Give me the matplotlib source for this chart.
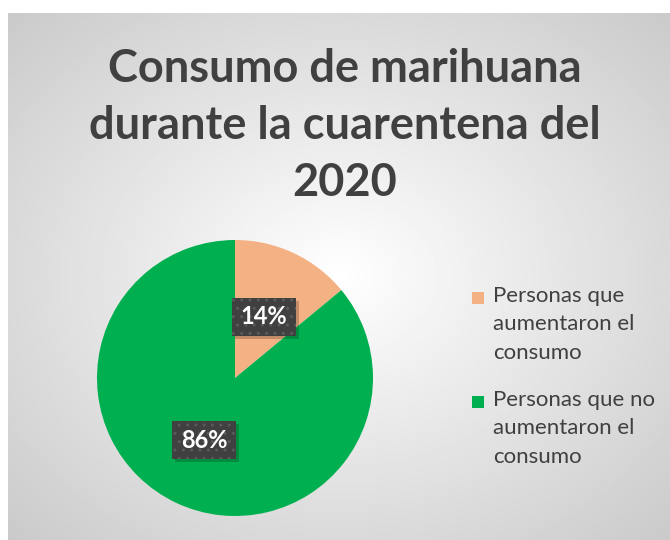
import numpy as np
import matplotlib.pyplot as plt
from matplotlib.patches import Rectangle

categorias = ['Personas que\naumentaron el\nconsumo', 'Personas que no\naumentaron el\nconsumo']
valores = [14, 86]
etiquetas = ['14%', '86%']
colores = ['#F4B183', '#00B050']
titulo = 'Consumo de marihuana\ndurante la cuarentena del\n2020'

plt.rcParams['font.family'] = ['Lato', 'DejaVu Sans']

W, H = 670, 540
fig = plt.figure(figsize=(W / 100, H / 100), dpi=100)

def fx(px):
    return px / W

def fy(py):
    return 1 - py / H

# fondo con degradado radial (estilo Excel)
bg = fig.add_axes([8 / W, 0, 1 - 8 / W, 1 - 13 / H])
yy, xx = np.mgrid[0:1:300j, 0:1:300j]
r = np.sqrt(((xx - 0.5) / 0.75) ** 2 + ((yy - 0.5) / 0.75) ** 2)
bg.imshow(1 - 0.22 * np.clip(r, 0, 1), cmap='gray', vmin=0, vmax=1,
          extent=[0, 1, 0, 1], aspect='auto')
bg.axis('off')

fig.text(fx(345), fy(126), titulo, ha='center', va='center',
         fontsize=32.5, fontweight='bold', color='#404040', linespacing=1.45)

ax = fig.add_axes([fx(235 - 138), fy(378 + 138), 276 / W, 276 / H])
wedges, _ = ax.pie(valores, colors=colores, startangle=90, counterclock=False,
                   wedgeprops=dict(linewidth=0))
ax.set_xlim(-1, 1)
ax.set_ylim(-1, 1)
ax.set_aspect('equal')

# etiquetas de datos con caja oscura punteada
posiciones = [(264, 317), (204, 440)]
bw, bh = 64, 38
for (px, py), lab in zip(posiciones, etiquetas):
    fig.patches.append(Rectangle((fx(px - bw / 2 + 3), fy(py + bh / 2 + 3)), bw / W, bh / H,
                                 transform=fig.transFigure, facecolor='black', alpha=0.2,
                                 edgecolor='none', zorder=3))
    fig.patches.append(Rectangle((fx(px - bw / 2), fy(py + bh / 2)), bw / W, bh / H,
                                 transform=fig.transFigure, facecolor='#404040',
                                 edgecolor='#5a5a5a', hatch='..', linewidth=0, zorder=4))
    fig.text(fx(px), fy(py), lab, ha='center', va='center', fontsize=17,
             fontweight='bold', color='white', zorder=5)

# leyenda manual
leg_y = [298, 402]
for w, lab, y0 in zip(wedges, categorias, leg_y):
    fig.patches.append(Rectangle((fx(472), fy(y0 + 6)), 12 / W, 12 / H,
                                 transform=fig.transFigure, facecolor=w.get_facecolor(),
                                 edgecolor='none'))
    fig.text(fx(493), fy(y0 - 12), lab, ha='left', va='top', fontsize=16,
             color='#404040', linespacing=1.52)

fig.savefig('out.png', dpi=100)
